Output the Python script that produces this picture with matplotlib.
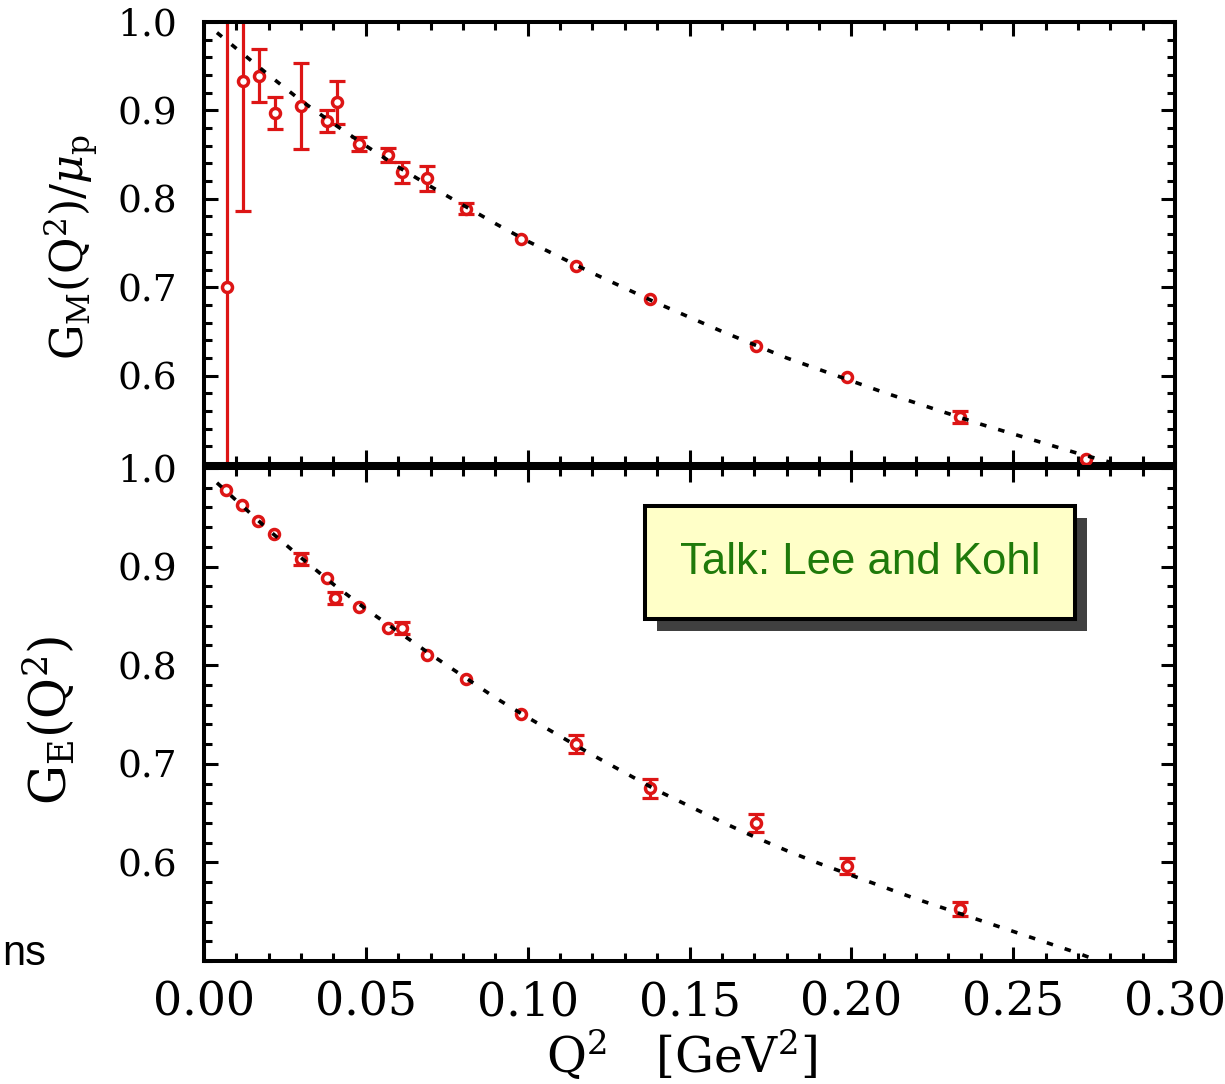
import matplotlib
matplotlib.use("Agg")
import matplotlib.pyplot as plt
from matplotlib.patches import Rectangle
from matplotlib.ticker import MultipleLocator, FixedLocator

# --- dados: G_M(Q^2)/mu_p (painel de cima) ---
gm_q2 = [0.0070, 0.0122, 0.0171, 0.0219, 0.0300, 0.0379, 0.0412, 0.0479, 0.0569, 0.0611,
         0.0688, 0.0808, 0.0978, 0.1148, 0.1378, 0.1707, 0.1987, 0.2336, 0.2725]
gm_val = [0.700, 0.933, 0.939, 0.897, 0.905, 0.888, 0.909, 0.862, 0.850, 0.830,
          0.823, 0.789, 0.754, 0.724, 0.687, 0.634, 0.598, 0.553, 0.506]
gm_err = [0.330, 0.147, 0.030, 0.018, 0.049, 0.012, 0.024, 0.008, 0.008, 0.012,
          0.014, 0.006, 0.003, 0.003, 0.003, 0.003, 0.003, 0.007, 0.003]

# curva ajustada
gm_fit_q2 = [0.004, 0.010, 0.020, 0.030, 0.040, 0.050, 0.060, 0.070, 0.080, 0.090,
             0.100, 0.110, 0.120, 0.130, 0.140, 0.150, 0.160, 0.170, 0.180, 0.190,
             0.200, 0.210, 0.220, 0.230, 0.240, 0.250, 0.260, 0.270, 0.280]
gm_fit = [0.988, 0.970, 0.940, 0.911, 0.885, 0.860, 0.836, 0.814, 0.793, 0.772,
          0.752, 0.734, 0.716, 0.699, 0.682, 0.666, 0.650, 0.635, 0.620, 0.607,
          0.594, 0.581, 0.569, 0.557, 0.545, 0.534, 0.523, 0.512, 0.502]

# --- dados: G_E(Q^2) (painel de baixo) ---
ge_q2 = [0.0068, 0.0117, 0.0168, 0.0217, 0.0300, 0.0379, 0.0405, 0.0479, 0.0569, 0.0611,
         0.0688, 0.0808, 0.0978, 0.1148, 0.1378, 0.1707, 0.1987, 0.2336]
ge_val = [0.978, 0.962, 0.946, 0.933, 0.908, 0.888, 0.868, 0.859, 0.838, 0.838,
          0.810, 0.786, 0.750, 0.720, 0.675, 0.640, 0.596, 0.553]
ge_err = [0.003, 0.003, 0.003, 0.003, 0.006, 0.003, 0.006, 0.003, 0.003, 0.006,
          0.003, 0.003, 0.003, 0.009, 0.010, 0.009, 0.008, 0.007]

ge_fit_q2 = [0.004, 0.010, 0.020, 0.030, 0.040, 0.050, 0.060, 0.070, 0.080, 0.090,
             0.100, 0.110, 0.120, 0.130, 0.140, 0.150, 0.160, 0.170, 0.180, 0.190,
             0.200, 0.210, 0.220, 0.230, 0.240, 0.250, 0.260, 0.270, 0.274]
ge_fit = [0.985, 0.967, 0.937, 0.909, 0.882, 0.857, 0.834, 0.811, 0.789, 0.767,
          0.747, 0.728, 0.709, 0.691, 0.673, 0.657, 0.641, 0.626, 0.612, 0.599,
          0.587, 0.575, 0.563, 0.552, 0.541, 0.530, 0.519, 0.508, 0.503]

x_ticks = [0.00, 0.05, 0.10, 0.15, 0.20, 0.25, 0.30]
y_ticks = [0.6, 0.7, 0.8, 0.9, 1.0]

vermelho = "#dd1515"
W, H = 1225, 1084

plt.rcParams['font.family'] = 'DejaVu Serif'
plt.rcParams['mathtext.fontset'] = 'dejavuserif'

fig = plt.figure(figsize=(W / 100, H / 100), dpi=100)
ax_top = fig.add_axes([204 / W, 1 - 464 / H, 971 / W, 442 / H])
ax_bot = fig.add_axes([204 / W, 1 - 961 / H, 971 / W, 493 / H])


def desenha(ax, q2, val, err, fit_q2, fit):
    grandes = [e > 0.004 for e in err]
    xs = [q for q, g in zip(q2, grandes) if g]
    ys = [v for v, g in zip(val, grandes) if g]
    es = [e for e, g in zip(err, grandes) if g]
    ax.errorbar(xs, ys, yerr=es, fmt='none', ecolor=vermelho, elinewidth=2.3,
                capsize=6, capthick=2.3, zorder=2)
    ax.plot(q2, val, 'o', ms=7.2, mfc='white', mec=vermelho, mew=2.5, zorder=3)
    ax.plot(fit_q2, fit, color='black', lw=2.6, ls=(0, (1.8, 3.4)), zorder=4)

    ax.set_xlim(0, 0.30)
    ax.set_ylim(0.5, 1.0)
    ax.xaxis.set_major_locator(FixedLocator(x_ticks))
    ax.xaxis.set_minor_locator(MultipleLocator(0.01))
    ax.yaxis.set_major_locator(FixedLocator(y_ticks))
    ax.yaxis.set_minor_locator(MultipleLocator(0.02))
    ax.tick_params(which='both', direction='in', top=True, right=True, width=2.2, color='black')
    ax.tick_params(which='major', length=10)
    ax.tick_params(which='minor', length=5.5)
    ax.tick_params(axis='y', labelsize=27, pad=19)
    ax.tick_params(axis='x', labelsize=33, pad=14)
    for s in ax.spines.values():
        s.set_linewidth(2.9)


desenha(ax_top, gm_q2, gm_val, gm_err, gm_fit_q2, gm_fit)
desenha(ax_bot, ge_q2, ge_val, ge_err, ge_fit_q2, ge_fit)

ax_top.tick_params(axis='x', labelbottom=False)
ax_bot.set_xticklabels([f"{t:.2f}" for t in x_ticks])

# rótulos dos eixos
fig.text(72 / W, 1 - 247 / H, r'$\mathrm{G_M(Q^2)/}\mu_\mathrm{p}$', rotation=90,
         ha='center', va='center', fontsize=32)
fig.text(50 / W, 1 - 720 / H, r'$\mathrm{G_E(Q^2)}$', rotation=90,
         ha='center', va='center', fontsize=36)
fig.text(682 / W, 1 - 1056 / H, r'$\mathrm{Q^2}\ \ \ \left[\mathrm{GeV^2}\right]$',
         ha='center', va='center', fontsize=35)

# caixa "Talk" com sombra
fig.add_artist(Rectangle((657 / W, 1 - 631 / H), 430 / W, 113 / H,
                         transform=fig.transFigure, facecolor='#404040', edgecolor='none'))
fig.add_artist(Rectangle((645 / W, 1 - 619 / H), 430 / W, 113 / H,
                         transform=fig.transFigure, facecolor='#ffffc8',
                         edgecolor='black', linewidth=2.9))
fig.text(860 / W, 1 - 563 / H, 'Talk: Lee and Kohl', ha='center', va='center',
         fontsize=31.5, color='#1f7a0a', family='Liberation Sans')

# resto de texto à esquerda
fig.text(2 / W, 1 - 965 / H, 'ns', ha='left', va='baseline', fontsize=30,
         family='Liberation Sans')

fig.savefig('out.png', dpi=100)
